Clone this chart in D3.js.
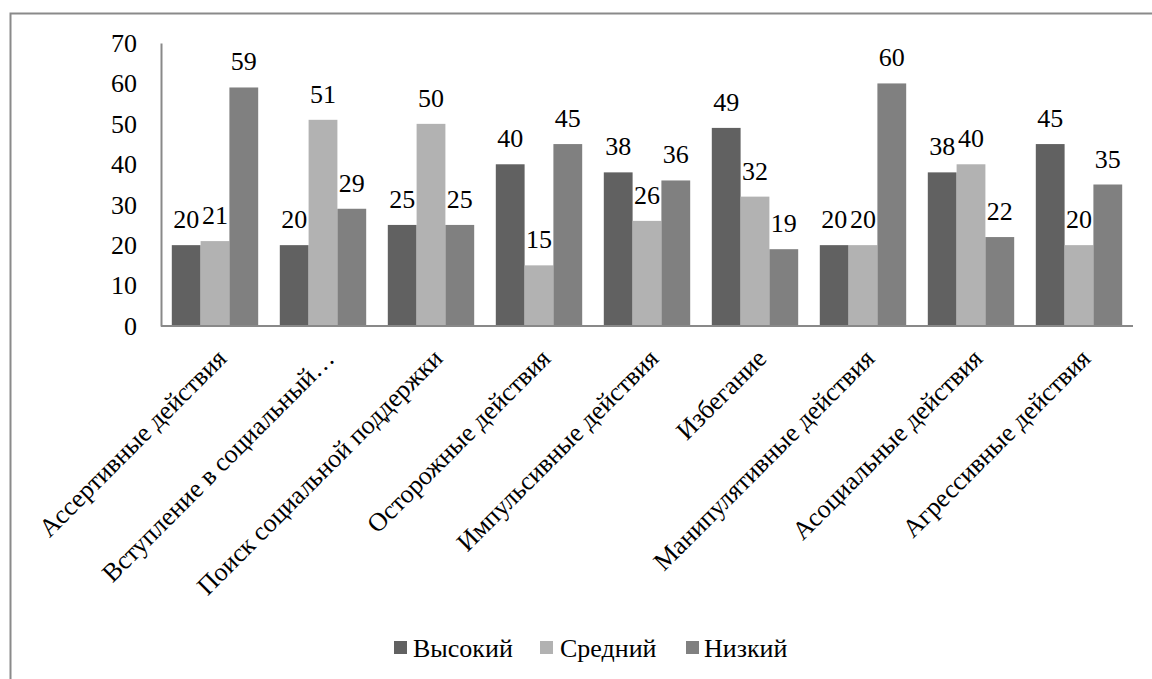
<!DOCTYPE html>
<html>
<head>
<meta charset="utf-8">
<script src="https://cdn.jsdelivr.net/npm/d3@7"></script>
</head>
<body style="margin:0">
<svg id="chart" width="1152" height="679"></svg>
<script>
const categories = [
  "Ассертивные действия",
  "Вступление в социальный…",
  "Поиск социальной поддержки",
  "Осторожные действия",
  "Импульсивные действия",
  "Избегание",
  "Манипулятивные действия",
  "Асоциальные действия",
  "Агрессивные действия"
];
const seriesNames = ["Высокий", "Средний", "Низкий"];
const high = [20, 20, 25, 40, 38, 49, 20, 38, 45];
const mid  = [21, 51, 50, 15, 26, 32, 20, 40, 20];
const low  = [59, 29, 25, 45, 36, 19, 60, 22, 35];
const yTicks = [0, 10, 20, 30, 40, 50, 60, 70];

const seriesValues = [high, mid, low];
const colors = ["#616161", "#b2b2b2", "#808080"];
const fams = ["Liberation Serif"];
const fam = fams[0];

const svg = d3.select("#chart");

function styleText(sel) {
  sel.style("font-family", `'${fam}'`, "important")
     .style("font-size", "26px", "important")
     .attr("font-family", fam)
     .attr("font-size", 26)
     .attr("fill", "#000");
}

svg.append("rect")
  .attr("x", 10.5).attr("y", 13.5)
  .attr("width", 1300).attr("height", 800)
  .attr("fill", "none").attr("stroke", "#8a8a8a").attr("stroke-width", 2);

const plot = { left: 161, right: 1133, top: 43, bottom: 326 };

const x = d3.scaleBand().domain(categories)
  .range([plot.left, plot.right]).paddingInner(0.2).paddingOuter(0.1);
const xs = d3.scaleBand().domain(seriesNames).range([0, x.bandwidth()]).padding(0);
const y = d3.scaleLinear().domain([0, 70]).range([plot.bottom, plot.top]);

const rows = [];
categories.forEach((c, i) => {
  seriesNames.forEach((s, j) => rows.push({ c, s, j, v: seriesValues[j][i] }));
});

svg.selectAll("rect.bar").data(rows).join("rect")
  .attr("class", "bar")
  .attr("x", d => x(d.c) + xs(d.s))
  .attr("y", d => y(d.v))
  .attr("width", xs.bandwidth())
  .attr("height", d => y(0) - y(d.v))
  .attr("fill", d => colors[d.j]);

// value labels directly on the svg
svg.selectAll("text.val").data(rows).join("text")
  .attr("class", "val")
  .attr("x", d => x(d.c) + xs(d.s) + xs.bandwidth() / 2)
  .attr("y", d => y(d.v) - 17)
  .attr("text-anchor", "middle")
  .text(d => d.v)
  .call(styleText);

// axis lines via d3 axes (labels drawn separately)
const yAxis = d3.axisLeft(y).tickValues(yTicks).tickSize(0).tickFormat("");
const gy = svg.append("g").attr("transform", `translate(${plot.left},0)`).call(yAxis);
gy.select(".domain").attr("stroke", "#898989").attr("stroke-width", 2);

const xAxis = d3.axisBottom(x).tickSize(0).tickFormat("");
const gx = svg.append("g").attr("transform", `translate(0,${plot.bottom})`).call(xAxis);
gx.select(".domain").attr("stroke", "#898989").attr("stroke-width", 2)
  .attr("d", `M${plot.left},0H${plot.right}`);

// y tick labels
svg.selectAll("text.ytick").data(yTicks).join("text")
  .attr("class", "ytick")
  .attr("x", plot.left - 24)
  .attr("y", d => y(d))
  .attr("dy", "0.34em")
  .attr("text-anchor", "end")
  .text(d => d)
  .call(styleText);

// x category labels
svg.selectAll("text.xtick").data(categories).join("text")
  .attr("class", "xtick")
  .attr("text-anchor", "end")
  .attr("transform", d => `translate(${x(d) + x.bandwidth() / 2 + 13},${plot.bottom + 34}) rotate(-45)`)
  .text(d => d)
  .call(styleText);

// legend
const legendSq = [394, 540, 686];
const legendTx = [413, 560, 704];
svg.selectAll("rect.leg").data(seriesNames).join("rect")
  .attr("class", "leg")
  .attr("width", 13).attr("height", 13).attr("y", 641)
  .attr("x", (d, i) => legendSq[i])
  .attr("fill", (d, i) => colors[i]);
svg.selectAll("text.leg").data(seriesNames).join("text")
  .attr("class", "leg")
  .attr("y", 657).attr("x", (d, i) => legendTx[i])
  .text(d => d)
  .call(styleText);
</script>
</body>
</html>
